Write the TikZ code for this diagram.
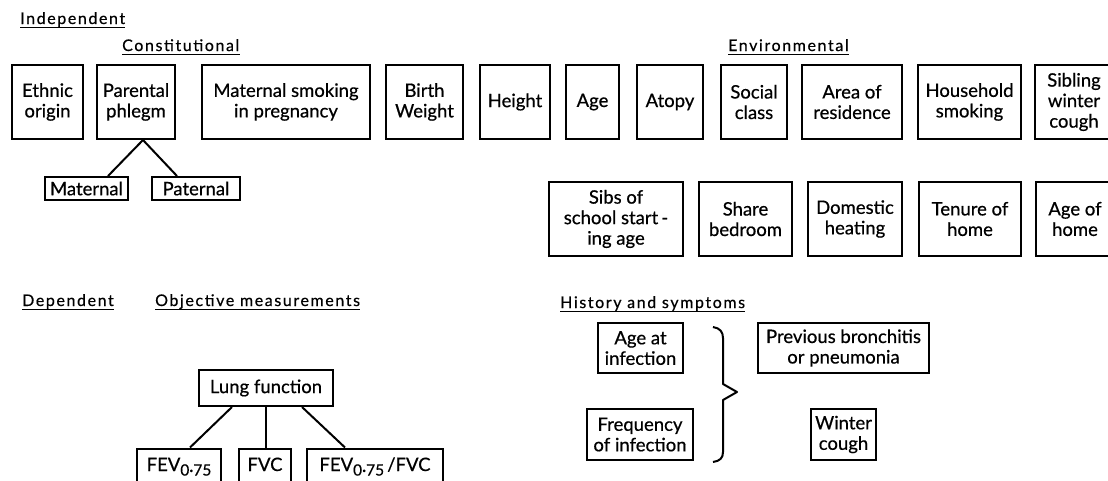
\documentclass[tikz,border=0pt]{standalone}
\usepackage{fontspec}
\setmainfont{Lato}
\newfontfamily\boxfont[FakeBold=0.6]{Lato}
\newfontfamily\labfont[LetterSpace=10,FakeBold=0.5]{Lato}
\usetikzlibrary{calc}
\tikzset{
  box/.style={draw, line width=2pt, inner sep=0pt, align=center,
    font=\boxfont\fontsize{18.5}{20.5}\selectfont},
  lowbox/.style={box, anchor=north, minimum height=44, text height=13pt, text depth=12pt},
  lab/.style={anchor=base west, inner sep=0pt, font=\labfont\fontsize{16}{18}\selectfont},
  link/.style={line width=2pt},
  uline/.style={line width=1.2pt},
  brace/.style={line width=2pt, line join=round},
}
\newcommand{\sbx}{\raisebox{-4.5pt}{\fontsize{15.5}{15.5}\selectfont 0·75}}
\begin{document}
\begin{tikzpicture}[x=1pt,y=-1pt]
\useasboundingbox (0,0) rectangle (1108,480);
\clip (0,0) rectangle (1108,480);

% section labels
\node[lab] (ind) at (20,24) {Independent};
\node[lab] (con) at (122,51) {Constitutional};
\node[lab] (env) at (728,51) {Environmental};
\node[lab] (dep) at (22,306) {Dependent};
\node[lab] (obj) at (155,306) {Objective measurements};
\node[lab] (his) at (560,308) {History and symptoms};
\foreach \n in {ind,con,env,dep,obj,his}
  \draw[uline] ($(\n.base west)+(0,3.5)$) -- ($(\n.base east)+(0,3.5)$);

% row 1
\node[box, minimum width=71, minimum height=74] (ethnic) at (47.5,102) {Ethnic\\origin};
\node[box, minimum width=78, minimum height=74] (parental) at (136,102) {Parental\\phlegm};
\node[box, minimum width=168, minimum height=74] (matsmoke) at (286,102) {Maternal smoking\\in pregnancy};
\node[box, minimum width=77, minimum height=74] (birth) at (424.5,102) {Birth\\Weight};
\node[box, minimum width=70, minimum height=74] (height) at (515,102) {Height};
\node[box, minimum width=53, minimum height=74] (age) at (592.5,102) {Age};
\node[box, minimum width=66, minimum height=74] (atopy) at (670,102) {Atopy};
\node[box, minimum width=66, minimum height=74] (social) at (754,102) {Social\\class};
\node[box, minimum width=100, minimum height=74] (area) at (852,102) {Area of\\residence};
\node[box, minimum width=103, minimum height=74] (household) at (969.5,102) {Household\\smoking};
\node[box, minimum width=78, minimum height=74] (sibling) at (1074,102) {Sibling\\winter\\cough};

% parental phlegm split
\node[box, minimum width=83, minimum height=23] (maternal) at (86.5,188.5) {Maternal};
\node[box, minimum width=88, minimum height=23] (paternal) at (196,188.5) {Paternal};
\coordinate (apex) at ($(parental.south)+(7,0)$);
\draw[link] ($(maternal.north)+(21.5,0)$) -- (apex) -- ($(paternal.north)+(-19,0)$);

% row 2
\node[box, minimum width=134, minimum height=74] (sibs) at (616,219) {Sibs of\\school start\,-\\ing age};
\node[box, minimum width=93, minimum height=74] (share) at (745.5,219) {Share\\bedroom};
\node[box, minimum width=94, minimum height=74] (domestic) at (855,219) {Domestic\\heating};
\node[box, minimum width=102, minimum height=74] (tenure) at (970,219) {Tenure of\\home};
\node[box, minimum width=78, minimum height=74] (agehome) at (1075,219) {Age of\\home};

% lung function
\node[box, minimum width=134, minimum height=36] (lung) at (266,388) {Lung function};
\node[lowbox, minimum width=84] (fev) at (179,447.5) {FEV\sbx};
\node[lowbox, minimum width=52] (fvc) at (265,447.5) {FVC};
\node[lowbox, minimum width=136] (ratio) at (375,447.5) {FEV\sbx\,/FVC};
\draw[link] ($(lung.south)+(-34,0)$) -- ($(fev.north)+(11,0)$);
\draw[link] ($(lung.south)+(0,0)$) -- ($(fvc.north)+(1,0)$);
\draw[link] ($(lung.south)+(36,0)$) -- ($(ratio.north)+(-30,0)$);

% history and symptoms
\node[box, minimum width=85, minimum height=50] (ageinf) at (640.5,348) {Age at\\infection};
\node[box, minimum width=106, minimum height=51] (freq) at (640,434.5) {Frequency\\of infection};
\node[box, minimum width=171, minimum height=50] (prev) at (843.5,348) {Previous bronchitis\\or pneumonia};
\node[box, minimum width=65, minimum height=51] (winter) at (843.5,434.5) {Winter\\cough};

% brace
\coordinate (btop) at (713,327);
\coordinate (btip) at (737,392);
\coordinate (bbot) at (713,462);
\draw[brace] (btop) .. controls (720,328) and (723,332) .. (723,338)
  -- (723,384) -- (btip) -- (723,400) -- (723,452)
  .. controls (723,458) and (720,461) .. (bbot);
\end{tikzpicture}
\end{document}
